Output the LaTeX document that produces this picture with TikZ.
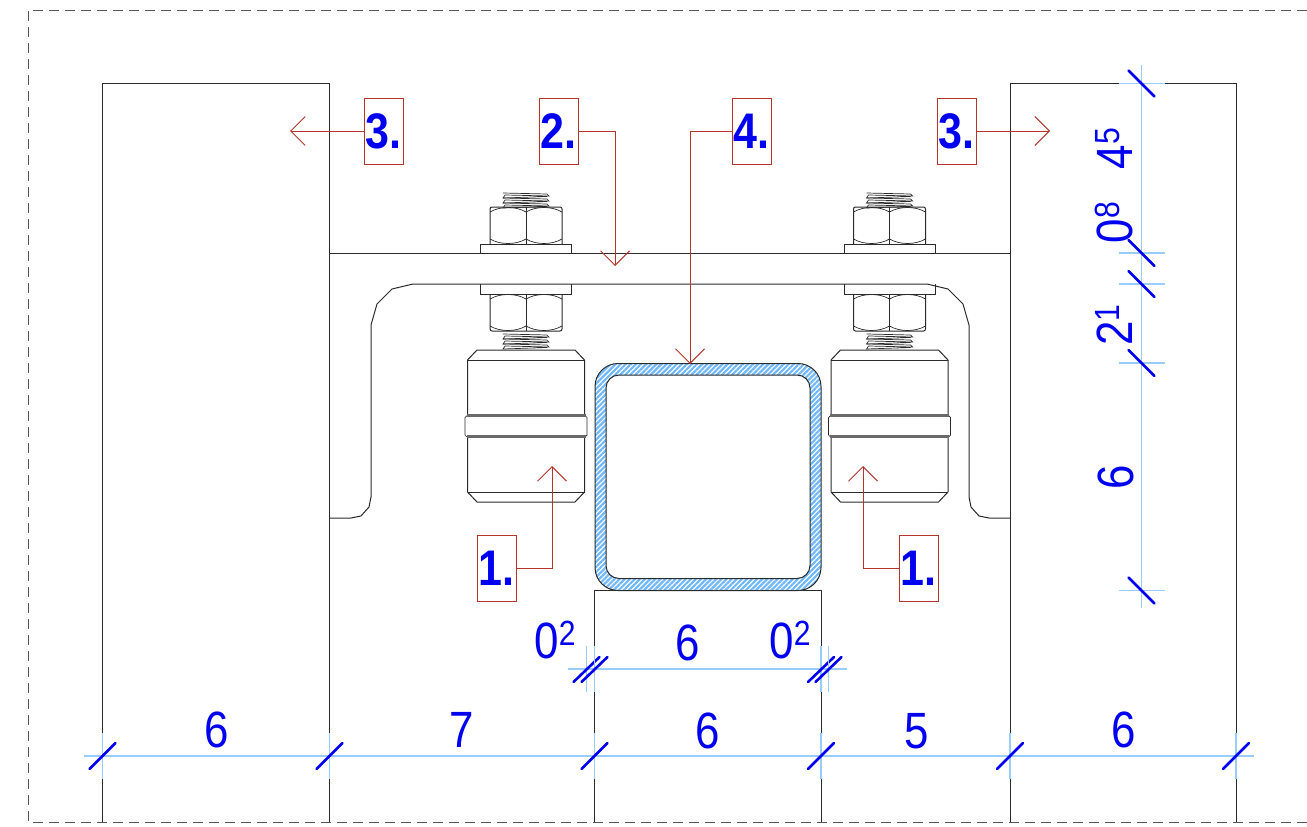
\documentclass[tikz,border=0pt]{standalone}
\usepackage{fontspec}
\setmainfont{Liberation Sans}
\newfontfamily\dimfont[FakeStretch=.86]{Liberation Sans}
\usetikzlibrary{arrows.meta,patterns.meta}
\definecolor{leaderred}{HTML}{B5352A}
\definecolor{dimblue}{HTML}{0000F0}
\definecolor{witnessblue}{HTML}{99CCFF}
\definecolor{hatchblue}{HTML}{70B8FF}
\definecolor{steelline}{HTML}{2A2A2A}
\definecolor{frameline}{HTML}{555555}
\newcommand{\dimsup}[2]{#1\raisebox{.27em}{\fontsize{35}{35}\selectfont #2}}
\tikzset{
  steel/.style={draw=steelline,line width=1pt},
  thin steel/.style={draw=steelline,line width=.7pt},
  witness/.style={draw=witnessblue,line width=1.4pt},
  dimtick/.style={draw=dimblue,line width=2.6pt,line cap=round},
  dimtext/.style={text=dimblue,inner sep=0pt,font=\dimfont\fontsize{51}{51}\selectfont},
  refbox/.style={draw=leaderred,line width=1pt,inner sep=0pt,minimum width=39pt,minimum height=66pt,
    text=dimblue,font=\dimfont\bfseries\fontsize{50}{50}\selectfont},
  leader/.style={draw=leaderred,line width=1pt,-{Straight Barb[length=14.5pt,width=29pt]}},
}
\begin{document}
\begin{tikzpicture}[x=1pt,y=-1pt]
        \useasboundingbox (0,0) rectangle (1307,827);
        % the sheet frame
        \draw[frameline,line width=1pt,dash pattern=on 10pt off 6pt] (1307,10) -- (28,10) -- (28,822) -- (1307,822);

        % the two posts and the middle post
        \draw[steel] (102.5,822) -- (102.5,83.5) -- (329.5,83.5) -- (329.5,822);
        \draw[steel] (1010,822) -- (1010,83.5) -- (1236,83.5) -- (1236,822);
        \draw[steel] (594.5,822) -- (594.5,590) -- (821,590) -- (821,822);

        % the bent plate
        \draw[steel] (329.5,253) -- (1010,253);
        \draw[steel] (329.5,518) -- (351,518) -- (361,516) -- (369,507) -- (371,497) -- (371,325) -- (377,304)
            -- (392,289) -- (413,284) -- (927,284) -- (948,289) -- (963,304) -- (969,325) -- (969,497)
            -- (971,507) -- (979,516) -- (989,518) -- (1010,518);

        % the bolts with their nuts and rollers
        \foreach \cx in {526,889.5} {
          \begin{scope}[shift={(\cx,0)}]
            % thread
            \foreach \ty in {193,198,203,334,339,344} {
              \draw[thin steel] (-23,\ty) -- (21,\ty+1) -- (23,\ty+3) -- (-21,\ty+2) -- (-23,\ty+5) -- (21,\ty+3.5);
            }
            % upper nut
            \draw[steel,rounded corners=2pt] (-36,244) -- (-36,207) -- (36,207) -- (36,244);
            \draw[thin steel] (0,207) -- (0,244);
            \draw[thin steel] (-36,212) .. controls (-26,206) and (-10,206) .. (0,212) .. controls (10,206) and (26,206) .. (36,212);
            \draw[thin steel] (-36,239) .. controls (-26,245) and (-10,245) .. (0,239) .. controls (10,245) and (26,245) .. (36,239);
            % washers
            \draw[steel] (-45.5,253) -- (-45.5,244) -- (45.5,244) -- (45.5,253);
            \draw[steel] (-45.5,284) -- (-45.5,294) -- (45.5,294) -- (45.5,284);
            % lower nut
            \draw[steel,rounded corners=2pt] (-36,294) -- (-36,331) -- (36,331) -- (36,294);
            \draw[thin steel] (0,294) -- (0,331);
            \draw[thin steel] (-36,299) .. controls (-26,293) and (-10,293) .. (0,299) .. controls (10,293) and (26,293) .. (36,299);
            \draw[thin steel] (-36,326) .. controls (-26,332) and (-10,332) .. (0,326) .. controls (10,332) and (26,332) .. (36,326);
            % roller
            \draw[steel] (-58.5,414.5) -- (-58.5,360) -- (-49,350) -- (49,350) -- (58.5,360) -- (58.5,414.5);
            \draw[steel] (-58.5,360) -- (58.5,360);
            \draw[steel] (-58.5,437.5) -- (-58.5,492) -- (-49,502) -- (49,502) -- (58.5,492) -- (58.5,437.5);
            \draw[thin steel] (-58.5,492) -- (58.5,492);
            \draw[thin steel,rounded corners=1.5pt] (-61,416) rectangle (61,436.5);
            \draw[draw=steelline!70,line width=2.4pt] (-59.5,415.5) -- (59.5,415.5) (-59.5,436.5) -- (59.5,436.5);
          \end{scope}
        }

        % the tube
        \fill[pattern={Lines[angle=45,distance=3.6pt,line width=2.2pt]},pattern color=hatchblue,even odd rule]
            [rounded corners=23pt] (595,363.5) rectangle (821,590.5)
            [rounded corners=13pt] (606,375) rectangle (810,578.5);
        \draw[steel,rounded corners=23pt] (595,363.5) rectangle (821,590.5);
        \draw[steel,rounded corners=13pt] (606,375) rectangle (810,578.5);

        % the reference boxes and leaders
        \node[refbox] (ref3a) at (383.5,131) {3.};
        \node[refbox] (ref2) at (558.5,131) {2.};
        \node[refbox] (ref4) at (751.5,131) {4.};
        \node[refbox] (ref3b) at (956.5,131) {3.};
        \node[refbox] (ref1a) at (496.5,568) {1.};
        \node[refbox] (ref1b) at (918.5,568) {1.};
        \coordinate (tip3a) at (290,131);
        \coordinate (tip2) at (615,266);
        \coordinate (tip4) at (690,364);
        \coordinate (tip3b) at (1050,131);
        \coordinate (tip1a) at (552,466);
        \coordinate (tip1b) at (863,466);
        \draw[leader] (ref3a.west) -- (tip3a);
        \draw[leader] (ref2.east) -| (tip2);
        \draw[leader] (ref4.west) -| (tip4);
        \draw[leader] (ref3b.east) -- (tip3b);
        \draw[leader] (ref1a.east) -| (tip1a);
        \draw[leader] (ref1b.west) -| (tip1b);

        % the bottom dimension chain
        \draw[witness] (84,756) -- (1254,756);
        \foreach \dx in {102.5,329.5,594.5,821,1010,1236} {
          \draw[witness] (\dx,733) -- (\dx,779);
          \draw[dimtick] (\dx-13,769) -- (\dx+13,743);
        }
        \node[dimtext] (dim6a) at (216.5,730) {6};
        \node[dimtext] (dim7) at (461.5,730) {7};
        \node[dimtext] (dim6b) at (707.5,730.5) {6};
        \node[dimtext] (dim5) at (916.5,731) {5};
        \node[dimtext] (dim6c) at (1123.5,730) {6};

        % the upper dimension chain
        \draw[witness] (568,669) -- (847,669);
        \foreach \dx in {586.5,594.5,821,828.5} {
          \draw[witness] (\dx,646) -- (\dx,692);
          \draw[dimtick] (\dx-13,682) -- (\dx+13,657);
        }
        \node[dimtext] (dim02a) at (555,640) {\dimsup{0}{2}};
        \node[dimtext] (dim6d) at (687.5,643) {6};
        \node[dimtext] (dim02b) at (790,640) {\dimsup{0}{2}};

        % the vertical dimension chain
        \draw[witness] (1141.5,65) -- (1141.5,608);
        \foreach \dy in {83.5,253,284,363,590.5} {
          \draw[witness] (1119,\dy) -- (1165,\dy);
          \draw[dimtick] (1128.5,\dy-13) -- (1154.5,\dy+13);
        }
        \node[dimtext,rotate=90] (dim45) at (1114,148.5) {\dimsup{4}{5}};
        \node[dimtext,rotate=90] (dim08) at (1114,222.5) {\dimsup{0}{8}};
        \node[dimtext,rotate=90] (dim21) at (1114,325) {\dimsup{2}{1}};
        \node[dimtext,rotate=90] (dim6e) at (1115.5,477) {6};
\end{tikzpicture}
\end{document}
